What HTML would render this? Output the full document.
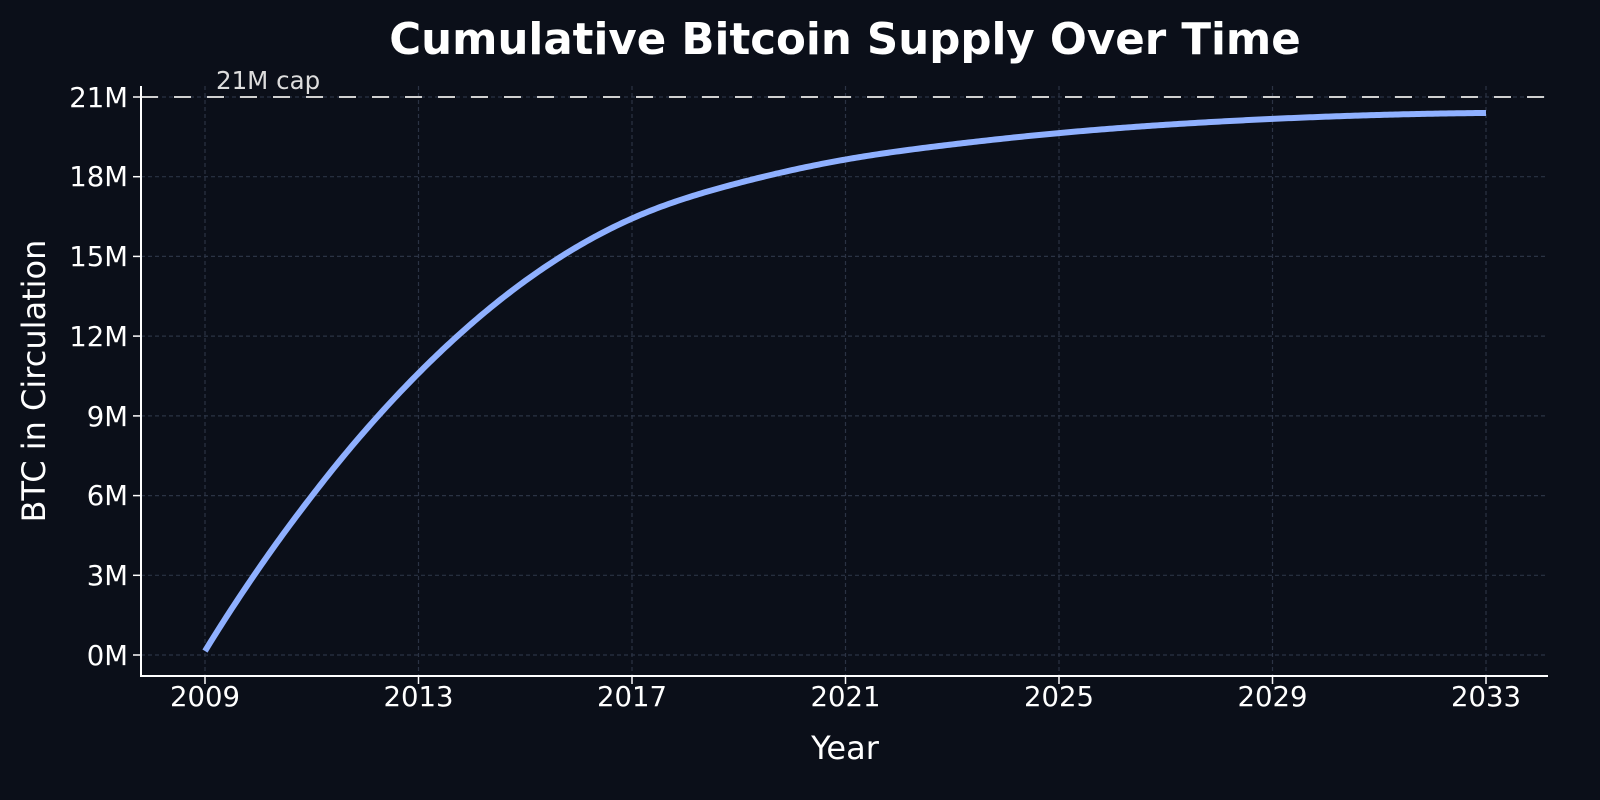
<!DOCTYPE html>
<html><head><meta charset="utf-8"><style>
html,body{margin:0;padding:0;background:#0b0f19;}
svg{display:block}
text{font-family:"DejaVu Sans","Liberation Sans",sans-serif;fill:#fff}
</style></head><body>
<svg width="1600" height="800" viewBox="0 0 1600 800">
<rect width="1600" height="800" fill="#0b0f19"/>
<text x="845" y="54" font-size="43.5" font-weight="bold" text-anchor="middle">Cumulative Bitcoin Supply Over Time</text>
<g stroke="#2b3344" stroke-width="1.2" stroke-dasharray="4,3">
<line x1="205" y1="86" x2="205" y2="676"/><line x1="418.5" y1="86" x2="418.5" y2="676"/>
<line x1="632" y1="86" x2="632" y2="676"/><line x1="845.5" y1="86" x2="845.5" y2="676"/>
<line x1="1059" y1="86" x2="1059" y2="676"/><line x1="1272.5" y1="86" x2="1272.5" y2="676"/>
<line x1="1486" y1="86" x2="1486" y2="676"/>
<line x1="141" y1="655" x2="1548" y2="655"/><line x1="141" y1="575.3" x2="1548" y2="575.3"/>
<line x1="141" y1="495.6" x2="1548" y2="495.6"/><line x1="141" y1="415.9" x2="1548" y2="415.9"/>
<line x1="141" y1="336.1" x2="1548" y2="336.1"/><line x1="141" y1="256.4" x2="1548" y2="256.4"/>
<line x1="141" y1="176.7" x2="1548" y2="176.7"/><line x1="141" y1="97" x2="1548" y2="97"/>
</g>
<line x1="141" y1="97" x2="1548" y2="97" stroke="#d0d0d0" stroke-width="2" stroke-dasharray="17,16"/>
<text x="216" y="89" font-size="24.5" style="fill:#ddd">21M cap</text>
<path id="curve" fill="none" stroke="#8fb0ff" stroke-width="6" stroke-linecap="butt" stroke-linejoin="round"/>
<g stroke="#fff" stroke-width="2">
<line x1="141" y1="86" x2="141" y2="677"/><line x1="140" y1="676" x2="1548" y2="676"/>
</g>
<g stroke="#fff" stroke-width="1.5">
<line x1="133" y1="655" x2="141" y2="655"/><line x1="133" y1="575.3" x2="141" y2="575.3"/>
<line x1="133" y1="495.6" x2="141" y2="495.6"/><line x1="133" y1="415.9" x2="141" y2="415.9"/>
<line x1="133" y1="336.1" x2="141" y2="336.1"/><line x1="133" y1="256.4" x2="141" y2="256.4"/>
<line x1="133" y1="176.7" x2="141" y2="176.7"/><line x1="133" y1="97" x2="141" y2="97"/>
<line x1="205" y1="676" x2="205" y2="684"/><line x1="418.5" y1="676" x2="418.5" y2="684"/>
<line x1="632" y1="676" x2="632" y2="684"/><line x1="845.5" y1="676" x2="845.5" y2="684"/>
<line x1="1059" y1="676" x2="1059" y2="684"/><line x1="1272.5" y1="676" x2="1272.5" y2="684"/>
<line x1="1486" y1="676" x2="1486" y2="684"/>
</g>
<g font-size="27.5" text-anchor="end">
<text x="128" y="665">0M</text><text x="128" y="585">3M</text><text x="128" y="505">6M</text>
<text x="128" y="426">9M</text><text x="128" y="346">12M</text><text x="128" y="266">15M</text>
<text x="128" y="186">18M</text><text x="128" y="107">21M</text>
</g>
<g font-size="27.5" text-anchor="middle">
<text x="205" y="706">2009</text><text x="418.5" y="706">2013</text><text x="632" y="706">2017</text>
<text x="845.5" y="706">2021</text><text x="1059" y="706">2025</text><text x="1272.5" y="706">2029</text>
<text x="1486" y="706">2033</text>
</g>
<text x="845" y="759" font-size="32" text-anchor="middle">Year</text>
<text transform="translate(45,381) rotate(-90)" font-size="32" text-anchor="middle">BTC in Circulation</text>
</svg>
<script>
var X=[0,2,4,6,8,10,12,14,16,18,20,22,24], Y=[0.15,6.06,10.67,14.15,16.5,17.78,18.67,19.22,19.65,19.96,20.18,20.33,20.40];
var n=X.length, d=[], m=[];
for(var i=0;i<n-1;i++) d.push((Y[i+1]-Y[i])/(X[i+1]-X[i]));
m[0]=d[0]*1.12; m[n-1]=d[n-2]*0.5;
for(var i=1;i<n-1;i++){m[i]=(d[i-1]+d[i])/2;}
function f(t){
 if(t<0) return Y[0]+m[0]*t; if(t>24) return Y[n-1]+m[n-1]*(t-24);
 var i=0;while(i<n-2&&t>X[i+1])i++;var h=X[i+1]-X[i],s=(t-X[i])/h;
 var h00=2*s*s*s-3*s*s+1,h10=s*s*s-2*s*s+s,h01=-2*s*s*s+3*s*s,h11=s*s*s-s*s;
 return h00*Y[i]+h10*h*m[i]+h01*Y[i+1]+h11*h*m[i+1];}
function g(t){var sig=0.7,sum=0,w=0;for(var u=-2.1;u<=2.1;u+=0.05){var ww=Math.exp(-u*u/(2*sig*sig));sum+=ww*f(t+u);w+=ww;}
 var val=sum/w; var fade=Math.min(1,Math.min(t,24-t)/2); return fade*val+(1-fade)*f(t);}
var s="";
for(var k=0;k<=480;k++){var t=k*0.05;var x=205+t*53.375,y=655-g(t)*26.571;s+=(k?"L":"M")+x.toFixed(2)+","+y.toFixed(2);}
document.getElementById("curve").setAttribute("d",s);
</script>
</body></html>
